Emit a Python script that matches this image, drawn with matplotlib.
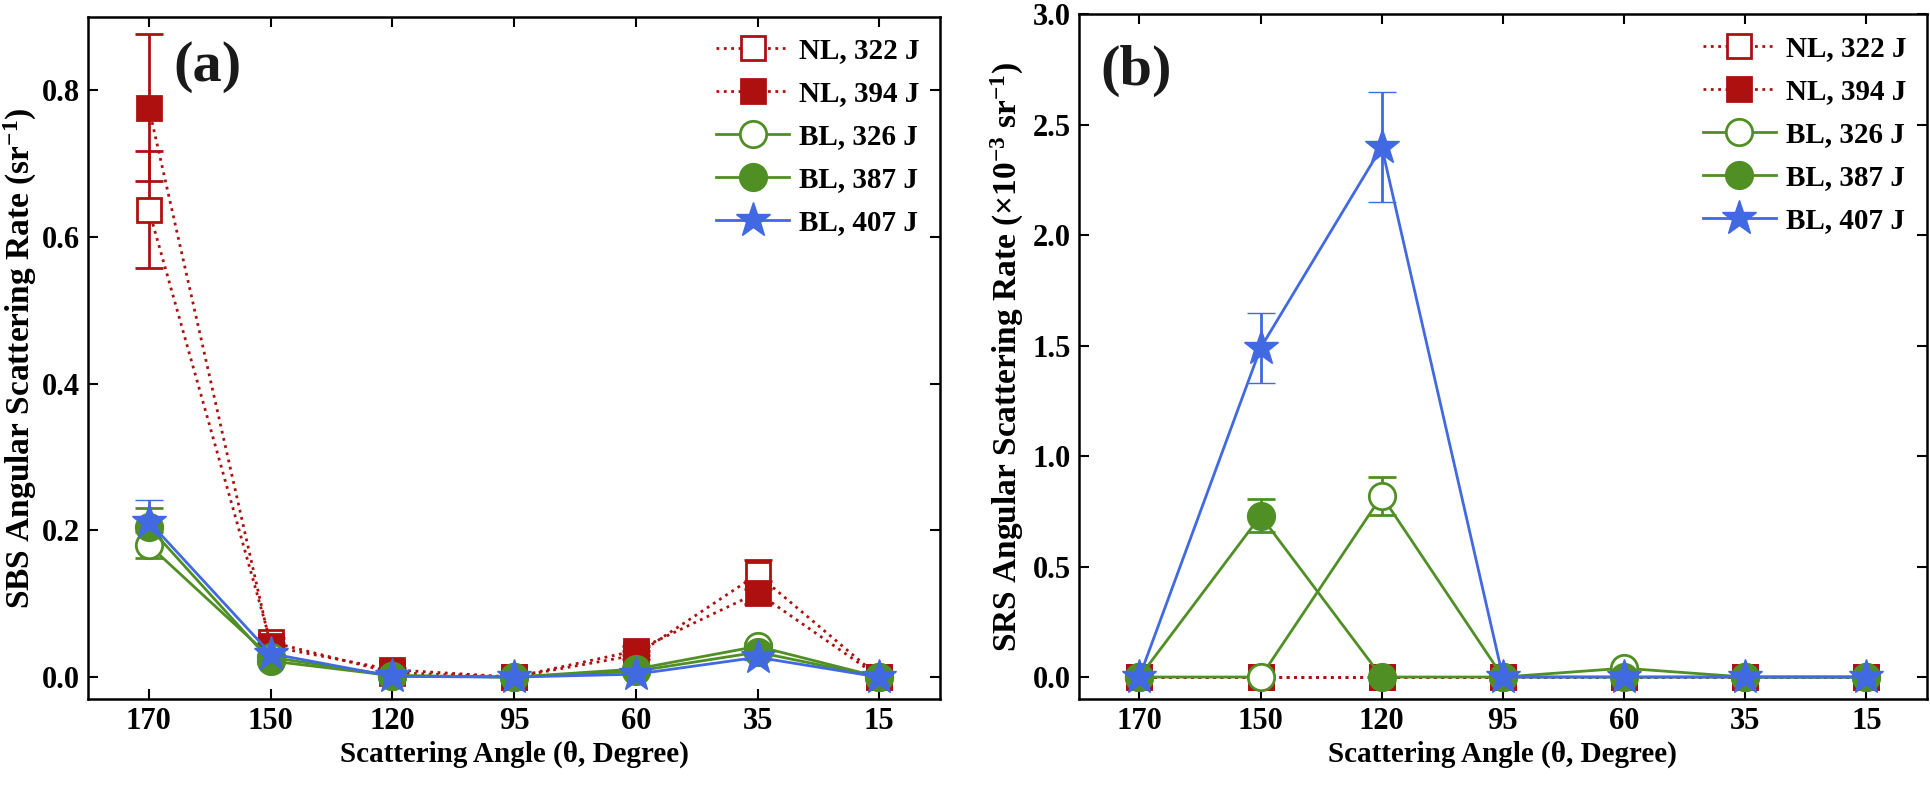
import numpy as np
import matplotlib.pyplot as plt

plt.rcParams['font.family'] = ['Liberation Serif', 'DejaVu Serif']
plt.rcParams['font.weight'] = 'bold'
plt.rcParams['axes.labelweight'] = 'bold'
plt.rcParams['mathtext.default'] = 'regular'

angles = ['170', '150', '120', '95', '60', '35', '15']
labels = ['NL, 322 J', 'NL, 394 J', 'BL, 326 J', 'BL, 387 J', 'BL, 407 J']

# SBS angular scattering rate (sr^-1)
sbs_nl322 = [0.637, 0.048, 0.006, 0.0, 0.030, 0.140, 0.0]
sbs_nl322_err = [0.080, 0.005, 0.002, 0.0, 0.005, 0.020, 0.0]
sbs_nl394 = [0.776, 0.042, 0.010, 0.0, 0.036, 0.115, 0.0]
sbs_nl394_err = [0.100, 0.005, 0.002, 0.0, 0.006, 0.016, 0.0]
sbs_bl326 = [0.180, 0.027, 0.002, 0.0, 0.011, 0.042, 0.0]
sbs_bl326_err = [0.018, 0.003, 0.001, 0.0, 0.002, 0.004, 0.0]
sbs_bl387 = [0.205, 0.022, 0.002, 0.0, 0.008, 0.034, 0.0]
sbs_bl387_err = [0.026, 0.003, 0.001, 0.0, 0.002, 0.004, 0.0]
sbs_bl407 = [0.212, 0.032, 0.001, 0.0, 0.004, 0.027, 0.0]
sbs_bl407_err = [0.030, 0.004, 0.001, 0.0, 0.001, 0.003, 0.0]

# SRS angular scattering rate (x1e-3 sr^-1)
srs_nl322 = [0.0, 0.0, 0.0, 0.0, 0.0, 0.0, 0.0]
srs_nl394 = [0.0, 0.0, 0.0, 0.0, 0.0, 0.0, 0.0]
srs_bl326 = [0.0, 0.0, 0.82, 0.0, 0.04, 0.0, 0.0]
srs_bl326_err = [0.0, 0.0, 0.085, 0.0, 0.0, 0.0, 0.0]
srs_bl387 = [0.0, 0.73, 0.0, 0.0, 0.0, 0.0, 0.0]
srs_bl387_err = [0.0, 0.075, 0.0, 0.0, 0.0, 0.0, 0.0]
srs_bl407 = [0.0, 1.49, 2.40, 0.0, 0.0, 0.0, 0.0]
srs_bl407_err = [0.0, 0.16, 0.25, 0.0, 0.0, 0.0, 0.0]

red = '#AE1010'
green = '#4F8F24'
blue = '#4169E1'

styles = [
    dict(color=red, ls=':', lw=2, marker='s', ms=17, mfc='white', mew=2),
    dict(color=red, ls=':', lw=2, marker='s', ms=17, mew=2),
    dict(color=green, ls='-', lw=2, marker='o', ms=19, mfc='white', mew=2),
    dict(color=green, ls='-', lw=2, marker='o', ms=19, mew=2),
    dict(color=blue, ls='-', lw=2, marker='*', ms=26, mew=1),
]

x = np.arange(len(angles))


def draw_panel(ax, series, errors):
    handles = []
    for y, err, st in zip(series, errors, styles):
        eb = ax.errorbar(x, y, yerr=err, capsize=10, elinewidth=2, capthick=2, **st)
        handles.append(eb.lines[0])
    ax.set_xticks(x)
    ax.set_xticklabels(angles)
    ax.set_xlim(-0.5, 6.5)
    ax.set_xlabel('Scattering Angle (θ, Degree)', fontsize=21, labelpad=3)
    ax.tick_params(direction='in', top=True, right=True, length=7, width=1.5, pad=6,
                   labelsize=22)
    for sp in ax.spines.values():
        sp.set_linewidth(1.8)
    ax.legend(handles, labels, loc='upper right', frameon=False, fontsize=21,
              handlelength=2.5, handletextpad=0.35, labelspacing=0.55,
              borderaxespad=0.3)


fig = plt.figure(figsize=(19.3, 7.99), dpi=100)
ax1 = fig.add_axes([0.0456, 0.125, 0.4415, 0.854])
ax2 = fig.add_axes([0.559, 0.125, 0.4394, 0.857])

draw_panel(ax1, [sbs_nl322, sbs_nl394, sbs_bl326, sbs_bl387, sbs_bl407],
           [sbs_nl322_err, sbs_nl394_err, sbs_bl326_err, sbs_bl387_err, sbs_bl407_err])
ax1.set_ylim(-0.03, 0.9)
ax1.set_yticks([0.0, 0.2, 0.4, 0.6, 0.8])
ax1.set_ylabel('SBS Angular Scattering Rate (sr$^{-1}$)', fontsize=24)
ax1.yaxis.set_label_coords(-0.058, 0.5)
ax1.text(0.1, 0.965, '(a)', transform=ax1.transAxes, fontsize=42, va='top', color='#1a1a1a')

draw_panel(ax2, [srs_nl322, srs_nl394, srs_bl326, srs_bl387, srs_bl407],
           [None, None, srs_bl326_err, srs_bl387_err, srs_bl407_err])
ax2.set_ylim(-0.1, 3.0)
ax2.set_yticks([0.0, 0.5, 1.0, 1.5, 2.0, 2.5, 3.0])
ax2.set_ylabel('SRS Angular Scattering Rate (×10$^{-3}$ sr$^{-1}$)', fontsize=24)
ax2.yaxis.set_label_coords(-0.062, 0.5)
ax2.text(0.025, 0.955, '(b)', transform=ax2.transAxes, fontsize=42, va='top', color='#1a1a1a')

fig.savefig('out.png', dpi=100)
